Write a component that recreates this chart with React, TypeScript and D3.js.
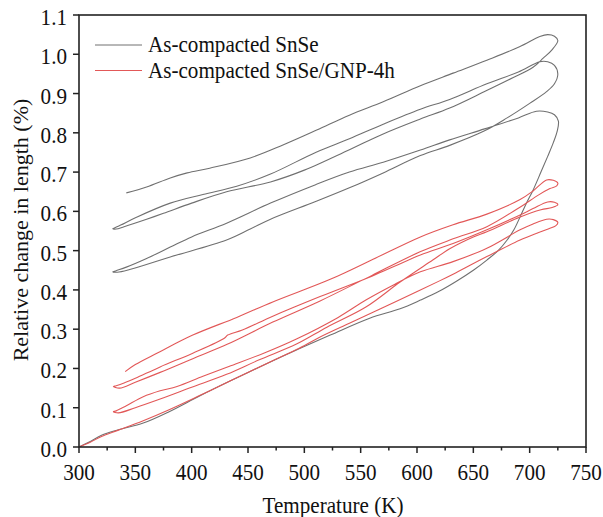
import React from "react";
import * as d3 from "d3";

type P = [number, number];

// Legend / axis text
const seriesNames = ["As-compacted SnSe", "As-compacted SnSe/GNP-4h"];
const seriesColors = ["#707070", "#e25858"];
const xTicks = [300, 350, 400, 450, 500, 550, 600, 650, 700, 750];
const xMinor = [325, 375, 425, 475, 525, 575, 625, 675, 725];
const yTicks = [0, 0.1, 0.2, 0.3, 0.4, 0.5, 0.6, 0.7, 0.8, 0.9, 1.0, 1.1];
const xTitle = "Temperature (K)";
const yTitle = "Relative change in length (%)";

// ---------- As-compacted SnSe (gray) ----------
const grayHeat1: P[] = [[300,0],[310,0.014],[320,0.03],[335,0.044],[357,0.061],[380,0.09],[407,0.13],[434,0.168],[465,0.21],[493,0.247],[523,0.285],[558,0.328],[585,0.352],[603,0.374],[620,0.397],[635,0.422],[650,0.45],[662,0.476],[672,0.5],[680,0.527],[686,0.553],[691.5,0.586],[697,0.62],[703,0.654],[710,0.7],[716,0.74],[721,0.775],[724.5,0.805],[725.5,0.83],[722,0.846],[716,0.853]];
const grayCool1: P[] = [[716,0.853],[706,0.855],[690,0.838],[660,0.81],[629,0.782],[603,0.756],[570,0.725],[540,0.7],[510,0.668],[470,0.621],[431,0.57],[400,0.535],[381,0.509],[360,0.48],[342,0.458],[333,0.449],[330,0.446]];
const grayHeat2: P[] = [[330,0.446],[334,0.445],[345,0.452],[381,0.484],[431,0.527],[452,0.555],[470,0.58],[510,0.625],[540,0.66],[570,0.698],[603,0.742],[629,0.768],[660,0.805],[680,0.838],[700,0.875],[715,0.905],[722,0.925],[725,0.95],[722,0.972],[716,0.981]];
const grayCool2: P[] = [[716,0.981],[709,0.981],[690,0.955],[662,0.925],[629,0.885],[603,0.86],[570,0.822],[540,0.785],[510,0.75],[470,0.695],[440,0.664],[410,0.643],[381,0.621],[351,0.585],[337,0.565],[331,0.557],[330,0.556]];
const grayHeat3: P[] = [[330,0.556],[333,0.555],[340,0.561],[360,0.58],[375,0.595],[400,0.621],[431,0.65],[470,0.675],[500,0.705],[540,0.757],[570,0.797],[603,0.835],[629,0.863],[660,0.905],[685,0.94],[703,0.967],[712,0.99],[720,1.012],[725,1.035],[722,1.046],[716,1.05]];
const grayCool3: P[] = [[716,1.05],[709,1.045],[691,1.019],[662,0.985],[632,0.952],[603,0.92],[570,0.879],[540,0.845],[511,0.807],[481,0.769],[452,0.736],[416,0.71],[396,0.698],[381,0.685],[360,0.662],[342,0.647]];

// ---------- As-compacted SnSe/GNP-4h (red) ----------
const redHeat1: P[] = [[300,0],[310,0.012],[320,0.027],[335,0.043],[357,0.067],[380,0.095],[407,0.131],[434,0.168],[470,0.217],[493,0.248],[514,0.28],[540,0.315],[570,0.355],[603,0.4],[620,0.423],[632,0.44],[662,0.485],[691.5,0.527],[708,0.546],[717,0.556],[723,0.563],[725,0.572],[721,0.579],[715,0.58]];
const redCool1: P[] = [[715,0.58],[703,0.568],[691.5,0.553],[662,0.506],[632,0.472],[603,0.446],[580,0.414],[555,0.375],[530,0.33],[493,0.275],[465,0.24],[433,0.205],[410,0.18],[387,0.154],[372,0.143],[357,0.128],[342,0.105],[333,0.092],[330.5,0.09]];
const redHeat2: P[] = [[330.5,0.09],[335,0.087],[350,0.1],[372,0.122],[400,0.152],[431,0.185],[460,0.222],[493,0.262],[520,0.305],[555,0.357],[585,0.42],[614,0.476],[629,0.505],[650,0.535],[662,0.548],[691,0.585],[710,0.604],[720,0.61],[725,0.617],[722,0.623],[716,0.624]];
const redCool2: P[] = [[716,0.624],[703,0.607],[691.5,0.591],[662,0.553],[632,0.518],[603,0.489],[580,0.46],[560,0.435],[514,0.383],[472,0.333],[445,0.298],[432,0.285],[429,0.277],[401,0.239],[372,0.204],[350,0.175],[340,0.163],[333,0.156],[330.5,0.154]];
const redHeat3: P[] = [[330.5,0.154],[336,0.15],[350,0.165],[372,0.19],[401,0.225],[432,0.262],[472,0.318],[514,0.372],[560,0.437],[602.7,0.497],[632,0.53],[662,0.561],[691,0.61],[708,0.642],[718,0.658],[724,0.665],[725,0.672],[721,0.679],[715,0.68]];
const redCool3: P[] = [[715,0.68],[703,0.652],[691.5,0.63],[662,0.593],[632,0.566],[603,0.535],[561,0.478],[523,0.427],[472.5,0.37],[440,0.33],[401,0.285],[370,0.24],[350,0.21],[341,0.192]];

const graySegments = [grayHeat1, grayCool1, grayHeat2, grayCool2, grayHeat3, grayCool3];
const redSegments = [redHeat1, redCool1, redHeat2, redCool2, redHeat3, redCool3];

const SX = 0.88;
const FF = "Liberation Serif";

export default function App() {
  const W = 603, H = 517;
  const x = d3.scaleLinear().domain([300, 750]).range([79, 586]);
  const y = d3.scaleLinear().domain([0, 1.1]).range([447, 15]);
  const line = d3
    .line<P>()
    .x((d) => x(d[0]))
    .y((d) => y(d[1]))
    .curve(d3.curveCatmullRom.alpha(0.5));

  const joinSegs = (segs: P[][]) => {
    const out: P[] = [];
    segs.forEach((s, i) => s.forEach((p, j) => { if (i === 0 || j > 0) out.push(p); }));
    return out;
  };
  const grayPath = line(joinSegs(graySegments)) || "";
  const redPath = line(joinSegs(redSegments)) || "";

  const [x0, x1] = x.range();
  const [yb, yt] = y.range();

  return (
    <svg width={W} height={H} fontFamily={FF} style={{ position: "absolute", left: 0, top: 0, background: "#fff" }}>
      <rect x={0} y={0} width={W} height={H} fill="#fff" />
      {/* data */}
      <path d={grayPath} fill="none" stroke={seriesColors[0]} strokeWidth={1.1} strokeLinejoin="round" />
      <path d={redPath} fill="none" stroke={seriesColors[1]} strokeWidth={1.1} strokeLinejoin="round" />

      {/* frame */}
      <rect x={x0} y={yt} width={x1 - x0} height={yb - yt} fill="none" stroke="#222" strokeWidth={1.6} />

      {/* x ticks */}
      {xTicks.map((t) => (
        <line key={"xt" + t} x1={x(t)} x2={x(t)} y1={yb} y2={yb + 6} stroke="#222" strokeWidth={1.5} />
      ))}
      {xMinor.map((t) => (
        <line key={"xm" + t} x1={x(t)} x2={x(t)} y1={yb} y2={yb + 3.5} stroke="#222" strokeWidth={1.5} />
      ))}
      {xTicks.map((t) => (
        <text key={"xl" + t} transform={`translate(${x(t)},480) scale(${SX},1)`} textAnchor="middle" fontSize={24} fontFamily={FF} fill="#111">
          {String(t)}
        </text>
      ))}

      {/* y ticks */}
      {yTicks.map((t) => (
        <line key={"yt" + t} x1={x0 - 6} x2={x0} y1={y(t)} y2={y(t)} stroke="#222" strokeWidth={1.5} />
      ))}
      {yTicks.map((t) => (
        <text key={"yl" + t} transform={`translate(67,${y(t) + 10}) scale(${SX},1)`} textAnchor="end" fontSize={24} fontFamily={FF} fill="#111">
          {t.toFixed(1)}
        </text>
      ))}

      {/* axis titles */}
      <text transform={`translate(333,513) scale(${SX},1)`} textAnchor="middle" fontSize={24} fontFamily={FF} fill="#111">
        {xTitle}
      </text>
      <text transform="translate(28,230) rotate(-90)" textAnchor="middle" fontSize={22} fontFamily={FF} fill="#111">
        {yTitle}
      </text>

      {/* legend */}
      {seriesNames.map((n, i) => (
        <line key={"ll" + n} x1={95} x2={142} y1={45 + i * 25.5} y2={45 + i * 25.5} stroke={seriesColors[i]} strokeWidth={1} />
      ))}
      {seriesNames.map((n, i) => (
        <text key={"lt" + n} transform={`translate(148,${52 + i * 25.5}) scale(${SX},1)`} fontSize={24} fontFamily={FF} fill="#111">
          {n}
        </text>
      ))}
    </svg>
  );
}
